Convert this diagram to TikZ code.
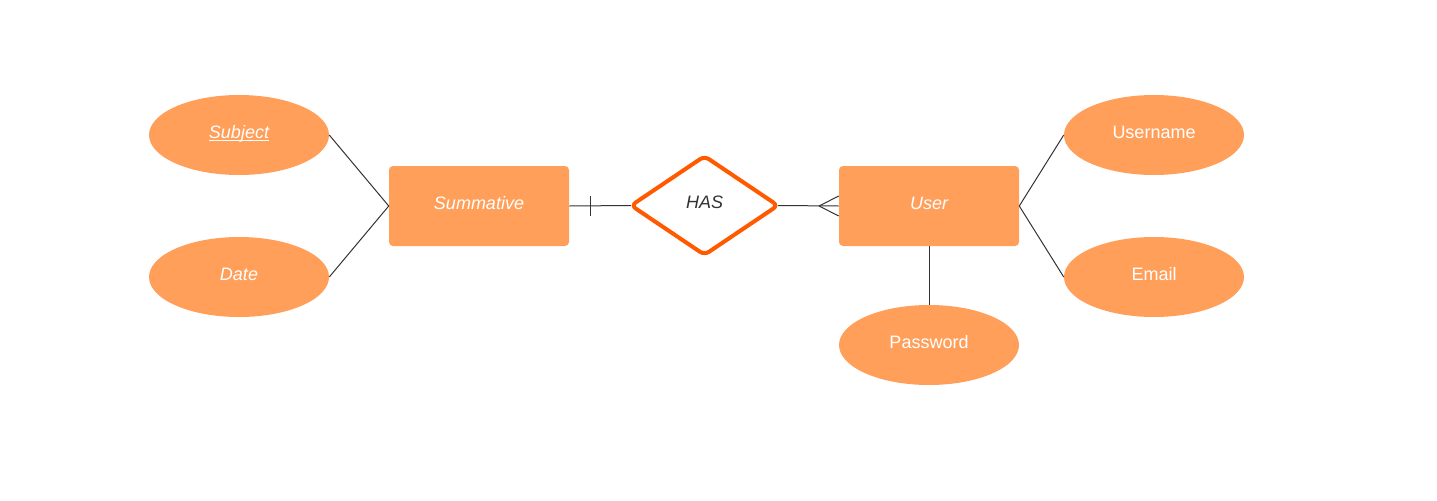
\documentclass[tikz,border=0pt]{standalone}
\usepackage{fontspec}
\setmainfont{Liberation Sans}
\usetikzlibrary{shapes.geometric}
\definecolor{attrfill}{HTML}{FF9F5A}
\definecolor{relline}{HTML}{FF5A00}
\definecolor{linecol}{HTML}{333333}
\newcommand\ulsub[1]{\setbox0\hbox{#1}\rlap{\rule[-1.6pt]{\wd0}{0.6pt}}\box0}
\tikzset{
  lbl/.style={text height=9.7pt, text depth=4.5pt, font=\fontsize{13.5pt}{16pt}\selectfont},
  attr/.style={lbl, ellipse, fill=attrfill, draw=none, minimum width=135pt, minimum height=60pt, inner sep=0pt, text=white},
  entity/.style={lbl, rectangle, rounded corners=3pt, fill=attrfill, draw=none, minimum width=135pt, minimum height=60pt, inner sep=0pt, text=white, font=\fontsize{13.5pt}{16pt}\selectfont\itshape},
  rel/.style={lbl, diamond, draw=relline, line width=3pt, fill=white, rounded corners=4pt, minimum width=110pt, minimum height=74pt, inner sep=0pt, outer sep=0pt, aspect=1.5, text=linecol, font=\fontsize{13.5pt}{16pt}\selectfont\itshape},
  conn/.style={draw=linecol, line width=0.75pt},
}
\begin{document}
\begin{tikzpicture}[x=0.75pt, y=-0.75pt]
\path[use as bounding box] (0,0) rectangle (1437,500);
\node[attr] (subject) at (239,135) {\itshape\ulsub{Subject}};
\node[attr] (date) at (239,277) {\itshape Date};
\node[entity] (summ) at (479,206) {Summative};
\node[rel] (has) at (704.5,205.5) {HAS};
\node[entity] (user) at (929,206) {User};
\node[attr] (username) at (1154,135) {Username};
\node[attr] (email) at (1154,277) {Email};
\node[attr] (password) at (929,345) {Password};
\draw[conn] (subject.east) -- (summ.west);
\draw[conn] (date.east) -- (summ.west);
\draw[conn] (summ.east) -- (has.west);
\coordinate (tick) at (590,206);
\draw[conn] ([yshift=-7.5pt]tick) -- ([yshift=7.5pt]tick);
\draw[conn] (has.east) -- (user.west);
\coordinate (crow) at (819,206);
\draw[conn] (crow) -- ([yshift=-7.5pt]user.west);
\draw[conn] (crow) -- ([yshift=7.5pt]user.west);
\draw[conn] (user.east) -- (username.west);
\draw[conn] (user.east) -- (email.west);
\draw[conn] (user.south) -- (password.north);
\end{tikzpicture}
\end{document}
